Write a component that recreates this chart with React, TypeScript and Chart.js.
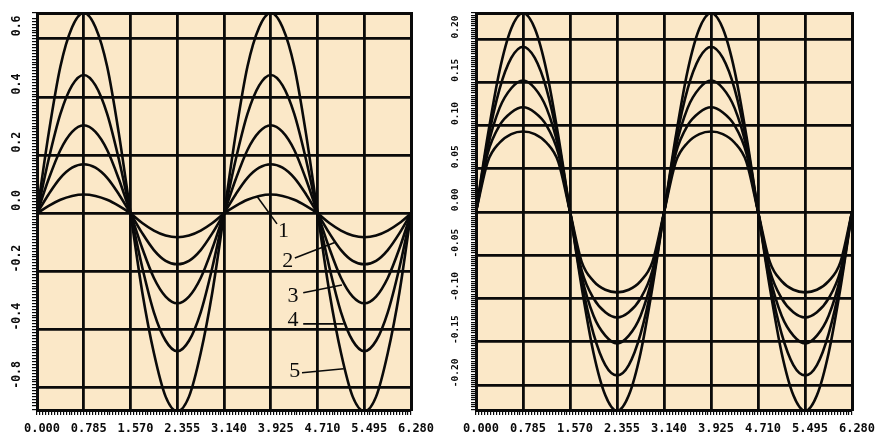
import React, { useEffect, useRef } from "react";
import { Chart, registerables } from "chart.js";

Chart.register(...registerables);

// ---------- data ----------
const xValues = [
  0, 0.196, 0.393, 0.589, 0.785, 0.982, 1.178, 1.374, 1.571,
  1.767, 1.963, 2.16, 2.356, 2.552, 2.749, 2.945, 3.142,
  3.338, 3.534, 3.731, 3.927, 4.123, 4.32, 4.516, 4.712,
  4.909, 5.105, 5.301, 5.498, 5.694, 5.89, 6.087, 6.28,
];

const left1 = [0, 0.026, 0.047, 0.06, 0.065, 0.06, 0.047, 0.026, 0, -0.033, -0.059, -0.076, -0.082, -0.076, -0.059, -0.033, 0, 0.026, 0.047, 0.06, 0.065, 0.06, 0.047, 0.026, 0, -0.033, -0.059, -0.076, -0.082, -0.076, -0.059, -0.033, 0];
const left2 = [0, 0.066, 0.122, 0.157, 0.169, 0.157, 0.122, 0.066, 0, -0.068, -0.126, -0.163, -0.175, -0.163, -0.126, -0.068, 0, 0.066, 0.122, 0.157, 0.169, 0.157, 0.122, 0.066, 0, -0.068, -0.126, -0.163, -0.175, -0.163, -0.126, -0.068, 0];
const left3 = [0, 0.118, 0.218, 0.28, 0.303, 0.28, 0.218, 0.118, 0, -0.12, -0.222, -0.286, -0.309, -0.286, -0.222, -0.12, 0, 0.118, 0.218, 0.28, 0.303, 0.28, 0.218, 0.118, 0, -0.12, -0.222, -0.286, -0.309, -0.286, -0.222, -0.12, 0];
const left4 = [0, 0.186, 0.342, 0.44, 0.476, 0.44, 0.342, 0.186, 0, -0.185, -0.34, -0.438, -0.474, -0.438, -0.34, -0.185, 0, 0.186, 0.342, 0.44, 0.476, 0.44, 0.342, 0.186, 0, -0.185, -0.34, -0.438, -0.474, -0.438, -0.34, -0.185, 0];
const left5 = [0, 0.275, 0.505, 0.64, 0.69, 0.64, 0.505, 0.275, 0, -0.27, -0.48, -0.63, -0.68, -0.63, -0.48, -0.27, 0, 0.275, 0.505, 0.64, 0.69, 0.64, 0.505, 0.275, 0, -0.27, -0.48, -0.63, -0.68, -0.63, -0.48, -0.27, 0];

const right1 = [0, 0.058, 0.08, 0.09, 0.093, 0.09, 0.08, 0.058, 0, -0.058, -0.08, -0.09, -0.093, -0.09, -0.08, -0.058, 0, 0.058, 0.08, 0.09, 0.093, 0.09, 0.08, 0.058, 0, -0.058, -0.08, -0.09, -0.093, -0.09, -0.08, -0.058, 0];
const right2 = [0, 0.068, 0.1, 0.115, 0.121, 0.115, 0.1, 0.068, 0, -0.068, -0.1, -0.116, -0.122, -0.116, -0.1, -0.068, 0, 0.068, 0.1, 0.115, 0.121, 0.115, 0.1, 0.068, 0, -0.068, -0.1, -0.116, -0.122, -0.116, -0.1, -0.068, 0];
const right3 = [0, 0.075, 0.12, 0.143, 0.152, 0.143, 0.12, 0.075, 0, -0.075, -0.12, -0.143, -0.152, -0.143, -0.12, -0.075, 0, 0.075, 0.12, 0.143, 0.152, 0.143, 0.12, 0.075, 0, -0.075, -0.12, -0.143, -0.152, -0.143, -0.12, -0.075, 0];
const right4 = [0, 0.082, 0.142, 0.178, 0.191, 0.178, 0.142, 0.082, 0, -0.082, -0.141, -0.177, -0.189, -0.177, -0.141, -0.082, 0, 0.082, 0.142, 0.178, 0.191, 0.178, 0.142, 0.082, 0, -0.082, -0.141, -0.177, -0.189, -0.177, -0.141, -0.082, 0];
const right5 = [0, 0.088, 0.163, 0.212, 0.23, 0.212, 0.163, 0.088, 0, -0.088, -0.163, -0.212, -0.23, -0.212, -0.163, -0.088, 0, 0.088, 0.163, 0.212, 0.23, 0.212, 0.163, 0.088, 0, -0.088, -0.163, -0.212, -0.23, -0.212, -0.163, -0.088, 0];

const xTickValues = [0, 0.785, 1.57, 2.355, 3.14, 3.925, 4.71, 5.495, 6.28];
const xTickLabels = ["0.000", "0.785", "1.570", "2.355", "3.140", "3.925", "4.710", "5.495", "6.280"];

const leftYTickValues = [0.6, 0.4, 0.2, 0, -0.2, -0.4, -0.6];
const leftYTickLabels = ["0.6", "0.4", "0.2", "0.0", "-0.2", "-0.4", "-0.8"];

const rightYTickValues = [0.2, 0.15, 0.1, 0.05, 0, -0.05, -0.1, -0.15, -0.2];
const rightYTickLabels = ["0.20", "0.15", "0.10", "0.05", "0.00", "-0.05", "-0.10", "-0.15", "-0.20"];

// callouts (left panel) in data coordinates
const calloutLabels = ["1", "2", "3", "4", "5"];
const calloutTextX = [4.14, 4.21, 4.3, 4.3, 4.33];
const calloutTextY = [-0.062, -0.163, -0.284, -0.369, -0.541];
const leaderFromX = [4.03, 4.33, 4.47, 4.47, 4.45];
const leaderFromY = [-0.036, -0.153, -0.273, -0.38, -0.548];
const leaderToX = [3.69, 5.0, 5.12, 5.15, 5.15];
const leaderToY = [0.06, -0.1, -0.246, -0.38, -0.534];

// ---------- styling ----------
const BG = "#fbe8c8";
const INK = "#0a0a0a";
const MONO = "'DejaVu Sans Mono', monospace";

const bgPlugin = {
  id: "panelBg",
  beforeDraw(chart: any) {
    const { ctx, chartArea } = chart;
    if (!chartArea) return;
    ctx.save();
    ctx.fillStyle = BG;
    ctx.fillRect(chartArea.left, chartArea.top, chartArea.right - chartArea.left, chartArea.bottom - chartArea.top);
    ctx.restore();
  },
};

const calloutPlugin = {
  id: "callouts",
  afterDatasetsDraw(chart: any) {
    const xs = chart.scales.x;
    const ys = chart.scales.y;
    const ctx = chart.ctx;
    ctx.save();
    ctx.strokeStyle = INK;
    ctx.lineWidth = 1.6;
    ctx.fillStyle = INK;
    ctx.font = "22px 'Liberation Serif', serif";
    ctx.textAlign = "center";
    ctx.textBaseline = "middle";
    for (let i = 0; i < calloutLabels.length; i++) {
      ctx.beginPath();
      ctx.moveTo(xs.getPixelForValue(leaderFromX[i]), ys.getPixelForValue(leaderFromY[i]));
      ctx.lineTo(xs.getPixelForValue(leaderToX[i]), ys.getPixelForValue(leaderToY[i]));
      ctx.stroke();
      ctx.fillText(calloutLabels[i], xs.getPixelForValue(calloutTextX[i]), ys.getPixelForValue(calloutTextY[i]));
    }
    ctx.restore();
  },
};

function makeDatasets(series: number[][]) {
  return series.map((s, k) => ({
    label: "curve " + (k + 1),
    data: s.map((v, i) => ({ x: xValues[i], y: v })),
    borderColor: INK,
    borderWidth: 2.6,
    pointRadius: 0,
    fill: false,
    cubicInterpolationMode: "monotone" as const,
    xAxisID: "x",
    yAxisID: "y",
  }));
}

interface PanelSpec {
  series: number[][];
  yMin: number;
  yMax: number;
  yTickValues: number[];
  yTickLabels: string[];
  yMinorStep: number;
  yLabelWidth: number;
  rightPad: number;
  yFontSize: number;
  yLabelOffset: number;
  callouts: boolean;
}

function makeConfig(p: PanelSpec): any {
  const tickFont = { family: MONO, weight: "bold" as const, size: 12 };
  const frameAxis = (axis: "x" | "y", position: string, size: number, min: number, max: number) => ({
    type: "linear",
    axis,
    position,
    min,
    max,
    ticks: { display: false },
    grid: { display: true, drawOnChartArea: false, drawTicks: false },
    border: { display: true, width: 3, color: INK },
    afterFit: (s: any) => {
      if (axis === "x") s.height = size;
      else s.width = size;
    },
  });
  return {
    type: "line",
    data: { datasets: makeDatasets(p.series) },
    plugins: p.callouts ? [bgPlugin, calloutPlugin] : [bgPlugin],
    options: {
      animation: false,
      responsive: false,
      devicePixelRatio: 1,
      layout: { padding: 0 },
      plugins: { legend: { display: false }, tooltip: { enabled: false } },
      scales: {
        x: {
          type: "linear",
          position: "bottom",
          weight: 1,
          min: 0,
          max: 6.28,
          afterBuildTicks: (s: any) => {
            s.ticks = xTickValues.map((v) => ({ value: v }));
          },
          ticks: {
            autoSkip: false,
            maxRotation: 0,
            minRotation: 0,
            padding: 7,
            labelOffset: 5,
            color: INK,
            font: tickFont,
            callback: (v: number) => xTickLabels[xTickValues.findIndex((t) => Math.abs(t - v) < 1e-6)],
          },
          grid: { color: INK, lineWidth: 2.8, drawTicks: false },
          border: { display: false },
          afterFit: (s: any) => {
            s.height = 22;
          },
        },
        xMinor: {
          type: "linear",
          axis: "x",
          position: "bottom",
          weight: 0,
          min: 0,
          max: 6.28,
          ticks: { display: false, stepSize: 0.0490625 },
          grid: { display: true, drawOnChartArea: false, drawTicks: true, tickLength: 5, lineWidth: 1.2, color: INK },
          border: { display: true, width: 3, color: INK },
          afterFit: (s: any) => {
            s.height = 5;
          },
        },
        y: {
          type: "linear",
          position: "left",
          weight: 1,
          min: p.yMin,
          max: p.yMax,
          afterBuildTicks: (s: any) => {
            s.ticks = p.yTickValues.slice().reverse().map((v) => ({ value: v }));
          },
          ticks: {
            autoSkip: false,
            minRotation: 90,
            maxRotation: 90,
            crossAlign: "center",
            padding: 1,
            labelOffset: p.yLabelOffset,
            color: INK,
            font: { family: MONO, weight: "bold" as const, size: p.yFontSize },
            callback: (v: number) => p.yTickLabels[p.yTickValues.findIndex((t) => Math.abs(t - v) < 1e-6)],
          },
          grid: { color: INK, lineWidth: 2.8, drawTicks: false },
          border: { display: false },
          afterFit: (s: any) => {
            s.width = p.yLabelWidth;
          },
        },
        yMinor: {
          type: "linear",
          axis: "y",
          position: "left",
          weight: 0,
          min: p.yMin,
          max: p.yMax,
          ticks: { display: false, stepSize: p.yMinorStep },
          grid: { display: true, drawOnChartArea: false, drawTicks: true, tickLength: 5, lineWidth: 1.2, color: INK },
          border: { display: true, width: 3, color: INK },
          afterFit: (s: any) => {
            s.width = 5;
          },
        },
        yFrame: frameAxis("y", "right", p.rightPad, p.yMin, p.yMax),
        xFrame: frameAxis("x", "top", 13, 0, 6.28),
      },
    },
  };
}

function Panel({ spec, width, height, left }: { spec: PanelSpec; width: number; height: number; left: number }) {
  const ref = useRef<HTMLCanvasElement | null>(null);
  useEffect(() => {
    if (!ref.current) return;
    const chart = new Chart(ref.current, makeConfig(spec));
    return () => chart.destroy();
  }, []);
  return (
    <canvas
      ref={ref}
      width={width}
      height={height}
      style={{ position: "absolute", left, top: 0, width, height }}
    />
  );
}

const leftSpec: PanelSpec = {
  series: [left1, left2, left3, left4, left5],
  yMin: -0.676,
  yMax: 0.689,
  yTickValues: leftYTickValues,
  yTickLabels: leftYTickLabels,
  yMinorStep: 0.01,
  yLabelWidth: 32,
  rightPad: 29,
  yFontSize: 11.5,
  yLabelOffset: -13,
  callouts: true,
};

const rightSpec: PanelSpec = {
  series: [right1, right2, right3, right4, right5],
  yMin: -0.229,
  yMax: 0.23,
  yTickValues: rightYTickValues,
  yTickLabels: rightYTickLabels,
  yMinorStep: 0.0025,
  yLabelWidth: 31,
  rightPad: 27,
  yFontSize: 9.5,
  yLabelOffset: -12,
  callouts: false,
};

export default function App() {
  return (
    <div style={{ position: "fixed", left: 0, top: 0, width: 879, height: 437, background: "#ffffff" }}>
      <Panel spec={leftSpec} width={440} height={437} left={0} />
      <Panel spec={rightSpec} width={439} height={437} left={440} />
    </div>
  );
}
